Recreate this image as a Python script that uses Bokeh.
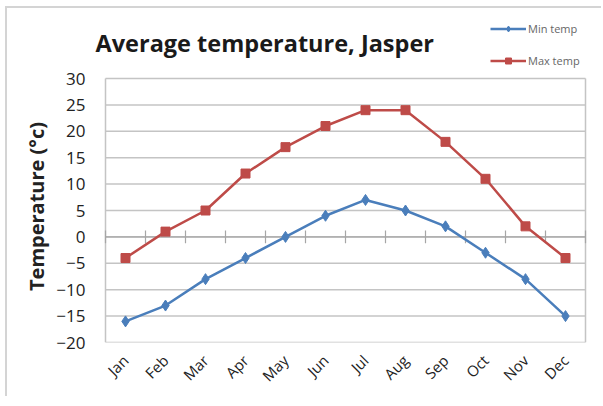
from bokeh.plotting import figure
from bokeh.layouts import row
from bokeh.models import Label, Legend, LegendItem, FactorRange, Range1d, FixedTicker
from bokeh.embed import file_html
from bokeh.resources import INLINE
from math import pi

months = ["Jan", "Feb", "Mar", "Apr", "May", "Jun", "Jul", "Aug", "Sep", "Oct", "Nov", "Dec"]
min_temp = [-16, -13, -8, -4, 0, 4, 7, 5, 2, -3, -8, -15]
max_temp = [-4, 1, 5, 12, 17, 21, 24, 24, 18, 11, 2, -4]
y_ticks = [-20, -15, -10, -5, 0, 5, 10, 15, 20, 25, 30]
title_text = "Average temperature, Jasper"
y_label = "Temperature (°c)"
series_names = ["Min temp", "Max temp"]

FONT = "Open Sans"
GRID = "#c4c4c4"
BLUE = "#4a7ebb"
RED = "#be4b48"

y_lo, y_hi = y_ticks[0], y_ticks[-1]
px_per_unit = 264 / (y_hi - y_lo)
y_top = y_hi + 68 / px_per_unit  # room above the plot box for title and legend

LABEL_W = 44
p = figure(width=594 - LABEL_W, height=388,
           x_range=FactorRange(*months, range_padding=0.3, range_padding_units="absolute"),
           y_range=Range1d(y_lo, y_top), output_backend="svg", toolbar_location=None,
           min_border_left=86 - LABEL_W, min_border_right=4, min_border_top=2, min_border_bottom=54,
           background_fill_color="white", border_fill_color="white")

p.outline_line_color = None
p.xgrid.grid_line_color = None
p.ygrid.grid_line_color = None

n = len(months)
# horizontal grid lines spanning the plot box
p.segment(x0=[0] * len(y_ticks), y0=y_ticks, x1=[n] * len(y_ticks), y1=y_ticks,
          line_color=GRID, line_width=1.5)
# left / right sides of the plot box
p.segment(x0=[0, n], y0=[y_lo, y_lo], x1=[0, n], y1=[y_hi, y_hi],
          line_color=GRID, line_width=1.5)
# zero axis line with category-boundary cross ticks
p.segment(x0=[0], y0=[0], x1=[n], y1=[0], line_color="#a6a6a6", line_width=1.2)
bounds = list(range(n + 1))
p.segment(x0=bounds, y0=[-1.2] * len(bounds), x1=bounds, y1=[1.2] * len(bounds),
          line_color="#a6a6a6", line_width=1.2)

p.yaxis.ticker = FixedTicker(ticks=y_ticks)
p.yaxis.axis_line_color = None
p.yaxis.major_tick_line_color = None
p.yaxis.minor_tick_line_color = None
p.yaxis.major_tick_out = 0
p.yaxis.major_label_text_font = FONT
p.yaxis.major_label_text_font_size = "17px"
p.yaxis.major_label_text_color = "#222222"
p.yaxis.major_label_standoff = 8

p.xaxis.axis_line_color = None
p.xaxis.major_tick_line_color = None
p.xaxis.minor_tick_line_color = None
p.xaxis.major_tick_out = 0
p.xaxis.major_label_orientation = pi / 4
p.xaxis.major_label_text_font = FONT
p.xaxis.major_label_text_font_size = "15px"
p.xaxis.major_label_text_color = "#222222"
p.xaxis.major_label_standoff = 15

l1 = p.line(months, min_temp, line_color=BLUE, line_width=2.5)
s1 = p.scatter(months, min_temp, marker="diamond", size=11, fill_color=BLUE, line_color=BLUE)
l2 = p.line(months, max_temp, line_color=RED, line_width=2.5)
s2 = p.scatter(months, max_temp, marker="square", size=9, fill_color=RED, line_color=RED)

legend = Legend(items=[LegendItem(label=series_names[0], renderers=[l1, s1]),
                       LegendItem(label=series_names[1], renderers=[l2, s2])],
                location=(397, 274), orientation="vertical",
                background_fill_alpha=0, border_line_color=None,
                label_text_font=FONT, label_text_font_size="11px", label_text_color="#666666",
                glyph_width=36, glyph_height=15, label_height=15, spacing=17,
                label_standoff=2, padding=2, margin=0)
p.add_layout(legend, "center")

p.add_layout(Label(x=-0.25, y=y_hi + 36 / px_per_unit, text=title_text,
                   text_font=FONT, text_font_size="23.5px", text_font_style="bold",
                   text_color="#1a1a1a", text_baseline="middle", text_align="left"))

# y-axis title, centred on the plot box, in a narrow companion panel
q = figure(width=LABEL_W, height=388, x_range=Range1d(0, 1), y_range=Range1d(y_lo, y_top),
           output_backend="svg", toolbar_location=None,
           min_border_left=0, min_border_right=0, min_border_top=2, min_border_bottom=54,
           background_fill_color="white", border_fill_color="white")
q.axis.visible = False
q.grid.visible = False
q.outline_line_color = None
q.add_layout(Label(x=28.5 / LABEL_W, y=(y_lo + y_hi) / 2 + 4 / px_per_unit, text=y_label,
                   angle=pi / 2,
                   text_font=FONT, text_font_size="20px", text_font_style="bold",
                   text_color="#222222", text_baseline="middle", text_align="center"))

layout = row(q, p, spacing=0)
layout.styles = {"margin-left": "5px", "margin-top": "6px",
                 "border-left": "2px solid #d4d4d4", "border-top": "2px solid #d4d4d4"}

open("out.html", "w").write(file_html(layout, INLINE))
